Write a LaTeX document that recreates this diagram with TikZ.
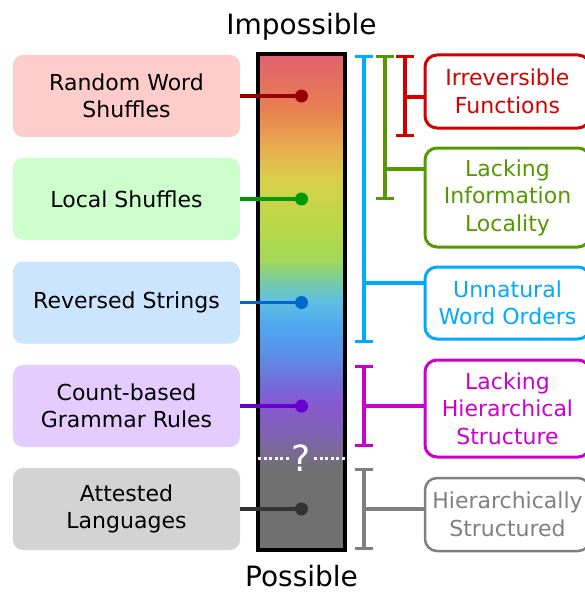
\documentclass[tikz,border=0pt]{standalone}
\usepackage{fontspec}
\setmainfont{DejaVu Sans}
\usetikzlibrary{arrows.meta}

\definecolor{pinkfill}{HTML}{FFCCCC}
\definecolor{greenfill}{HTML}{CCFFCC}
\definecolor{bluefill}{HTML}{CCE5FF}
\definecolor{purplefill}{HTML}{E5CCFF}
\definecolor{grayfill}{HTML}{D3D3D3}
\definecolor{dred}{HTML}{990000}
\definecolor{dgreen}{HTML}{009900}
\definecolor{dblue}{HTML}{0066CC}
\definecolor{dpurple}{HTML}{6600CC}
\definecolor{dgray}{HTML}{333333}
\definecolor{cred}{HTML}{D40000}
\definecolor{cgreen}{HTML}{559900}
\definecolor{cblue}{HTML}{00AAFF}
\definecolor{cmag}{HTML}{CC00CC}
\definecolor{cgray}{HTML}{808080}
% colours of the bar, from bottom to top
\definecolor{sa}{HTML}{707070}
\definecolor{sb}{HTML}{7A6A90}
\definecolor{sc}{HTML}{8060B8}
\definecolor{sd}{HTML}{8858D0}
\definecolor{se}{HTML}{7070D8}
\definecolor{sf}{HTML}{5A90E8}
\definecolor{sg}{HTML}{50A8F0}
\definecolor{sh}{HTML}{60C0E0}
\definecolor{si}{HTML}{70C8B0}
\definecolor{sj}{HTML}{A0D858}
\definecolor{sk}{HTML}{B8D848}
\definecolor{sl}{HTML}{D8D048}
\definecolor{sm}{HTML}{E8B050}
\definecolor{sn}{HTML}{E88050}
\definecolor{so}{HTML}{E06070}

\pgfdeclareverticalshading{barshade}{100bp}{color(0bp)=(sa); color(33.3bp)=(sa);
  color(34.6bp)=(sb); color(37.1bp)=(sc); color(39.6bp)=(sd); color(42.1bp)=(se);
  color(44.7bp)=(sf); color(47.7bp)=(sg); color(50.2bp)=(sh); color(51.7bp)=(si);
  color(54.2bp)=(sj); color(57.3bp)=(sk); color(62.3bp)=(sl); color(65.3bp)=(sm);
  color(69.4bp)=(sn); color(75bp)=(so); color(100bp)=(so)}

\newcommand\lblfont{\fontsize{22}{27.5}\selectfont}
\newcommand\scalefont{\fontsize{28}{32}\selectfont}

\tikzset{
  leftbox/.style={rounded corners=10pt, minimum width=227pt, minimum height=82pt,
    align=center, font=\lblfont, text=black},
  rightbox/.style={draw, line width=3pt, rounded corners=12pt, fill=white,
    minimum width=165pt, align=center, font=\lblfont, inner sep=2pt},
  link/.style={line width=3.2pt},
  dot/.style={circle, inner sep=0pt, minimum size=13pt},
  bracket/.style={line width=3.2pt, {Bar[width=18pt]}-{Bar[width=18pt]}},
  qline/.style={white, line width=3pt, dash pattern=on 3pt off 2.5pt},
  endlabel/.style={font=\scalefont, anchor=base, inner sep=0pt}
}

\begin{document}
\begin{tikzpicture}[x=1pt,y=-1pt]
  \useasboundingbox (0,0) rectangle (585,594);

  % the scale
  \node[draw, line width=4pt, shading=barshade, minimum width=87pt,
    minimum height=496pt, inner sep=0pt] (bar) at (301.5,302) {};
  \node[endlabel] (imp) at (301.5,35) {Impossible};
  \node[endlabel] (pos) at (301.5,586) {Possible};
  \node[text=white, font=\fontsize{36}{36}\selectfont, inner sep=3pt] (q) at (301.5,458) {?};
  \draw[qline] ([xshift=2pt]bar.west |- q) -- (q.west);
  \draw[qline] (q.east) -- ([xshift=-2pt]bar.east |- q);

  % left: languages
  \node[leftbox, fill=pinkfill] (shuf) at (126.5,96) {Random Word\\Shuffles};
  \node[leftbox, fill=greenfill] (local) at (126.5,199) {Local Shuffles};
  \node[leftbox, fill=bluefill] (rev) at (126.5,302.5) {Reversed Strings};
  \node[leftbox, fill=purplefill] (count) at (126.5,406) {Count-based\\Grammar Rules};
  \node[leftbox, fill=grayfill] (attest) at (126.5,509) {Attested\\Languages};

  \node[dot, fill=dred] (d1) at (bar.center |- shuf) {};
  \node[dot, fill=dgreen] (d2) at (bar.center |- local) {};
  \node[dot, fill=dblue] (d3) at (bar.center |- rev) {};
  \node[dot, fill=dpurple] (d4) at (bar.center |- count) {};
  \node[dot, fill=dgray] (d5) at (bar.center |- attest) {};
  \draw[link, dred] (shuf.east) -- (d1.center);
  \draw[link, dgreen] (local.east) -- (d2.center);
  \draw[link, dblue] (rev.east) -- (d3.center);
  \draw[link, dpurple] (count.east) -- (d4.center);
  \draw[link, dgray] (attest.east) -- (d5.center);

  % right: properties
  \node[rightbox, draw=cred, text=cred, minimum height=73pt] (irrev) at (507.5,91.5) {Irreversible\\Functions};
  \node[rightbox, draw=cgreen, text=cgreen, minimum height=99pt] (info) at (507.5,197.5) {Lacking\\Information\\Locality};
  \node[rightbox, draw=cblue, text=cblue, minimum height=72pt] (order) at (507.5,303) {Unnatural\\Word Orders};
  \node[rightbox, draw=cmag, text=cmag, minimum height=97pt] (hier) at (507.5,408.5) {Lacking\\Hierarchical\\Structure};
  \node[rightbox, draw=cgray, text=cgray, line width=2.5pt, minimum height=73pt] (struct) at (507.5,514.5) {Hierarchically\\Structured};

  \coordinate (btop) at (364,55);  \coordinate (bbot) at (364,343);  \coordinate (bmid) at (364,283);
  \coordinate (gtop) at (385,55);  \coordinate (gbot) at (385,200);  \coordinate (gmid) at (385,169);
  \coordinate (rtop) at (405,55);  \coordinate (rbot) at (405,137);  \coordinate (rmid) at (405,97);
  \coordinate (mtop) at (364,365); \coordinate (mbot) at (364,447); \coordinate (mmid) at (364,406);
  \coordinate (ktop) at (364,468); \coordinate (kbot) at (364,550); \coordinate (kmid) at (364,509);

  \draw[bracket, cblue] (btop) -- (bbot);
  \draw[link, cblue] (bmid) -- (bmid -| order.west);
  \draw[bracket, cgreen] (gtop) -- (gbot);
  \draw[link, cgreen] (gmid) -- (gmid -| info.west);
  \draw[bracket, cred] (rtop) -- (rbot);
  \draw[link, cred] (rmid) -- (rmid -| irrev.west);
  \draw[bracket, cmag] (mtop) -- (mbot);
  \draw[link, cmag] (mmid) -- (mmid -| hier.west);
  \draw[bracket, cgray] (ktop) -- (kbot);
  \draw[link, cgray] (kmid) -- (kmid -| struct.west);
\end{tikzpicture}
\end{document}
